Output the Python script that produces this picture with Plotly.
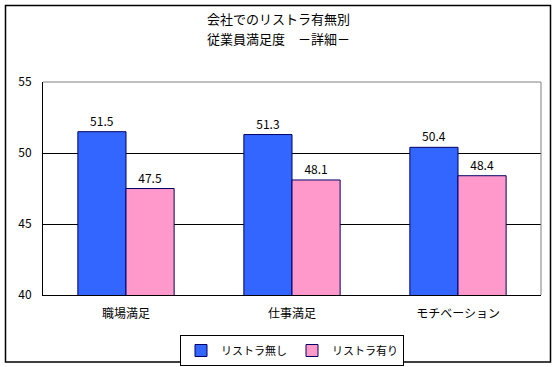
import plotly.graph_objects as go

categories = ["職場満足", "仕事満足", "モチベーション"]
no_restructuring = [51.5, 51.3, 50.4]
with_restructuring = [47.5, 48.1, 48.4]
series_names = ["リストラ無し", "リストラ有り"]
title_lines = ["会社でのリストラ有無別", "従業員満足度　－詳細－"]

FONT = "Noto Sans CJK JP, Noto Sans, sans-serif"

L, R, T, B = 43, 541, 82, 295
W, H = 556, 367
pw, ph = R - L, B - T

def px(x):
    return (x - L) / pw

def py(y):
    return (B - y) / ph

fig = go.Figure()
for vals, name, color in [(no_restructuring, series_names[0], "#3366FF"),
                          (with_restructuring, series_names[1], "#FF99CC")]:
    fig.add_trace(go.Bar(
        x=categories, y=vals, name=name,
        marker=dict(color=color, line=dict(color="#000066", width=1)),
        texttemplate="%{y:.1f}", textposition="outside",
        textfont=dict(size=12, color="black", family=FONT),
        cliponaxis=True,
    ))

shapes = [
    dict(type="rect", xref="paper", yref="paper",
         x0=px(5.5), x1=px(550.5), y0=py(362), y1=py(5.5),
         line=dict(color="black", width=1.5), layer="above"),
    dict(type="line", xref="paper", yref="paper", x0=0, x1=1, y0=1, y1=1,
         line=dict(color="#808080", width=1)),
    dict(type="line", xref="paper", yref="paper", x0=1, x1=1, y0=0, y1=1,
         line=dict(color="#808080", width=1)),
]

annotations = [
    dict(text=title_lines[0], xref="paper", yref="paper", x=px(278), y=py(19),
         xanchor="center", yanchor="middle", showarrow=False,
         font=dict(size=13, family=FONT, color="black")),
    dict(text=title_lines[1], xref="paper", yref="paper", x=px(278), y=py(39),
         xanchor="center", yanchor="middle", showarrow=False,
         font=dict(size=13, family=FONT, color="black")),
]

fig.update_layout(
    width=W, height=H,
    margin=dict(l=L, r=W - R, t=T, b=H - B, autoexpand=False),
    paper_bgcolor="white", plot_bgcolor="white",
    font=dict(family=FONT, size=12, color="black"),
    barmode="group", bargap=0.42, bargroupgap=0,
    showlegend=True,
    legend=dict(orientation="h", x=px(292), xanchor="center",
                y=py(335), yanchor="top",
                bordercolor="black", borderwidth=1,
                font=dict(size=11, family=FONT),
                itemwidth=30, tracegroupgap=0),
    shapes=shapes,
    annotations=annotations,
)
fig.update_yaxes(range=[40, 55], tickvals=[40, 45, 50, 55], showgrid=True,
                 gridcolor="black", gridwidth=1, showline=True,
                 linecolor="black", linewidth=1, ticks="", zeroline=False,
                 tickfont=dict(size=12), ticklabelstandoff=8, automargin=False)
fig.update_xaxes(showline=True, linecolor="black", linewidth=1, ticks="",
                 tickfont=dict(size=12), ticklabelstandoff=8, automargin=False)

fig.write_html("out.html", config={"displayModeBar": False},
               post_script="document.body.style.margin='0';document.body.style.overflow='hidden';")
